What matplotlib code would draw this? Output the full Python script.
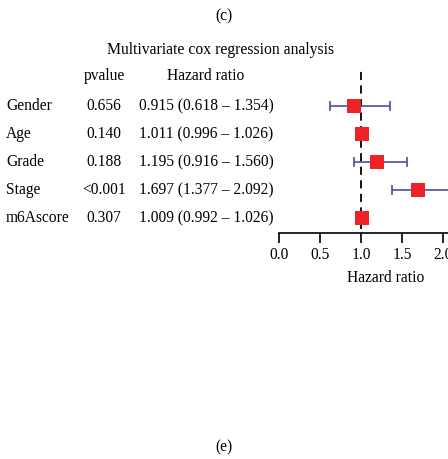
import matplotlib.pyplot as plt
import matplotlib.transforms as mtransforms

plt.rcParams['font.family'] = ['Liberation Serif', 'DejaVu Serif']

# Cox regression results
variables = ["Gender", "Age", "Grade", "Stage", "m6Ascore"]
pvalues = ["0.656", "0.140", "0.188", "<0.001", "0.307"]
hr = [0.915, 1.011, 1.195, 1.697, 1.009]
lower = [0.618, 0.996, 0.916, 1.377, 0.992]
upper = [1.354, 1.026, 1.560, 2.092, 1.026]
xticks = [0.0, 0.5, 1.0, 1.5, 2.0, 2.5]

W, H = 448, 459
fig = plt.figure(figsize=(W / 100, H / 100), dpi=100)
fs = 11.2

# axes placed in pixel terms; it runs past the right edge like the cropped original
ax_left, ax_bottom, ax_top = 279, 233, 67
px_per_unit = 82
xmax = 2.6
ax = fig.add_axes([ax_left / W, 1 - ax_bottom / H,
                   xmax * px_per_unit / W, (ax_bottom - ax_top) / H])

n = len(variables)
ypos = [n - 1 - i for i in range(n)]
row_px = 27.9
last_row_px = 218
ax.set_ylim(-(ax_bottom - last_row_px) / row_px,
            (last_row_px - ax_top) / row_px)
ax.set_xlim(0, xmax)

err_color = "#4a4f9c"
for y, h, lo, up in zip(ypos, hr, lower, upper):
    ax.errorbar(h, y, xerr=[[h - lo], [up - h]], fmt='none', ecolor=err_color,
                elinewidth=1.2, capsize=3.3, capthick=1.2, zorder=2)
ax.scatter(hr, ypos, marker='s', s=95, color="#ee2229", zorder=3, linewidths=0)
ax.axvline(1.0, ymin=0.025, ymax=1, color='black', linestyle=(0, (4.5, 3)),
           linewidth=1.3, zorder=1)

for s in ['top', 'right', 'left']:
    ax.spines[s].set_visible(False)
ax.spines['bottom'].set_linewidth(1.2)
ax.set_yticks([])
ax.set_xticks(xticks)
ax.set_xticklabels([f"{t:.1f}" for t in xticks], fontsize=fs)
ax.tick_params(axis='x', length=7, width=1.2, pad=3)
ax.set_xlabel("Hazard ratio", fontsize=fs, labelpad=5)

# table text: x in figure fraction, y in row data coords
tr = mtransforms.blended_transform_factory(fig.transFigure, ax.transData)
for y, name, p, h, lo, up in zip(ypos, variables, pvalues, hr, lower, upper):
    ax.text(6 / W, y, name, transform=tr, fontsize=fs, va='center', ha='left')
    ax.text(104 / W, y, p, transform=tr, fontsize=fs, va='center', ha='center')
    ax.text(139 / W, y, f"{h:.3f} ({lo:.3f} \u2013 {up:.3f})", transform=tr,
            fontsize=fs, va='center', ha='left')

fig.text(104 / W, 1 - 76 / H, "pvalue", fontsize=fs, va='center', ha='center')
fig.text(206 / W, 1 - 76 / H, "Hazard ratio", fontsize=fs, va='center', ha='center')
fig.text(221 / W, 1 - 50 / H, "Multivariate cox regression analysis", fontsize=11.3,
         va='center', ha='center')
fig.text(224 / W, 1 - 16 / H, "(c)", fontsize=fs, va='center', ha='center')
fig.text(224 / W, 1 - 447 / H, "(e)", fontsize=fs, va='center', ha='center')

fig.savefig("out.png", dpi=100)
